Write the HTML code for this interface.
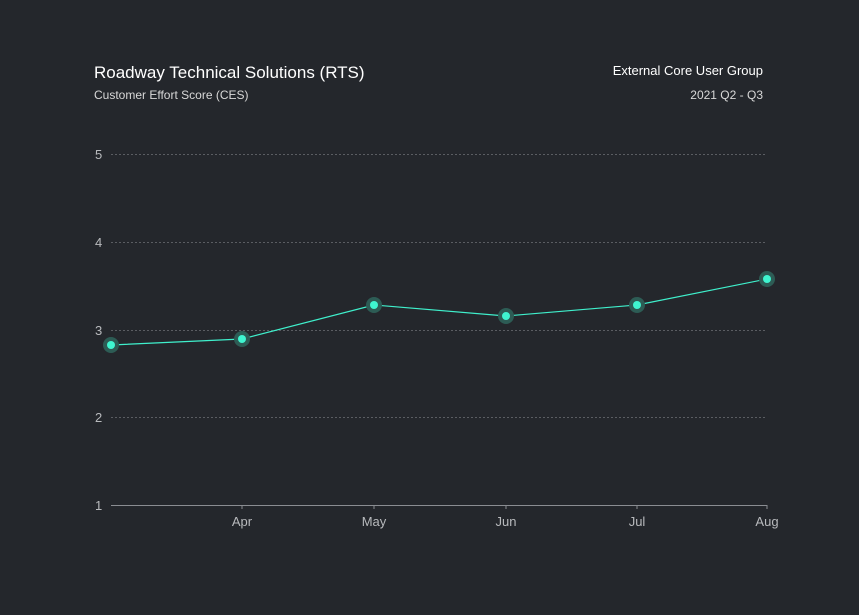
<!DOCTYPE html>
<html><head><style>
html,body{margin:0;padding:0;background:#24272c;}
svg{display:block}
text{font-family:"Liberation Sans",sans-serif;}
</style></head><body>
<svg width="859" height="615" viewBox="0 0 859 615" xmlns="http://www.w3.org/2000/svg">
<rect width="859" height="615" fill="#24272c"/>
<text x="94" y="78" fill="#ffffff" font-size="17">Roadway Technical Solutions (RTS)</text>
<text x="94" y="99" fill="#d8d8d8" font-size="12">Customer Effort Score (CES)</text>
<text x="763" y="75" fill="#ffffff" font-size="13" text-anchor="end">External Core User Group</text>
<text x="763" y="99" fill="#d8d8d8" font-size="12" text-anchor="end">2021 Q2 - Q3</text>
<g stroke="#5a5d62" stroke-width="1" stroke-dasharray="2,2">
<line x1="111" y1="154.5" x2="767" y2="154.5"/>
<line x1="111" y1="242.5" x2="767" y2="242.5"/>
<line x1="111" y1="330.5" x2="767" y2="330.5"/>
<line x1="111" y1="417.5" x2="767" y2="417.5"/>
</g>
<line x1="111" y1="505.5" x2="767" y2="505.5" stroke="#8a8d92"/>
<g stroke="#8a8d92"><line x1="242" y1="505" x2="242" y2="509"/><line x1="374" y1="505" x2="374" y2="509"/><line x1="506" y1="505" x2="506" y2="509"/><line x1="637" y1="505" x2="637" y2="509"/><line x1="767" y1="505" x2="767" y2="509"/></g>
<g fill="#b8babd" font-size="13">
<text x="95" y="159">5</text><text x="95" y="247">4</text><text x="95" y="335">3</text><text x="95" y="422">2</text><text x="95" y="510">1</text>
</g>
<g fill="#b8babd" font-size="13" text-anchor="middle">
<text x="242" y="526">Apr</text><text x="374" y="526">May</text><text x="506" y="526">Jun</text><text x="637" y="526">Jul</text><text x="767" y="526">Aug</text>
</g>
<polyline points="111,345 242,339 374,305 506,316 637,305 767,279" fill="none" stroke="#3ff0cc" stroke-width="1.2"/>
<g fill="#2d5c55">
<circle cx="111" cy="345" r="8"/><circle cx="242" cy="339" r="8"/><circle cx="374" cy="305" r="8"/><circle cx="506" cy="316" r="8"/><circle cx="637" cy="305" r="8"/><circle cx="767" cy="279" r="8"/>
</g>
<g fill="#3ff5d0">
<circle cx="111" cy="345" r="4"/><circle cx="242" cy="339" r="4"/><circle cx="374" cy="305" r="4"/><circle cx="506" cy="316" r="4"/><circle cx="637" cy="305" r="4"/><circle cx="767" cy="279" r="4"/>
</g>
</svg>
</body></html>
